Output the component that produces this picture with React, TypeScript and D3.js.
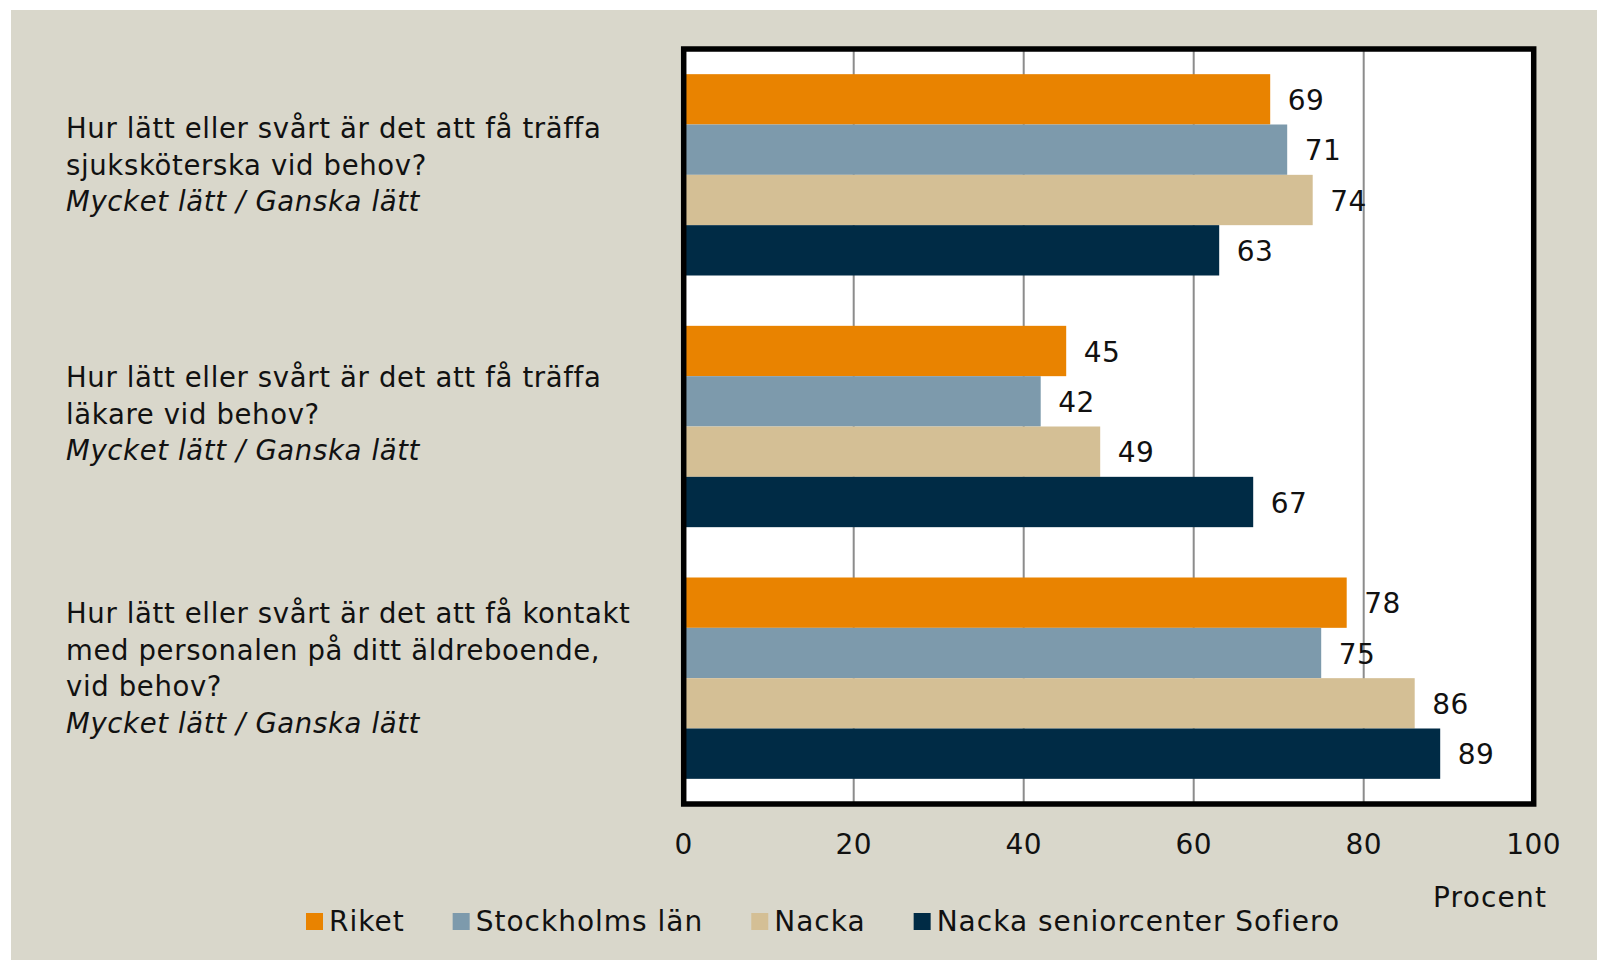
import React, { useEffect, useRef } from "react";
import * as d3 from "d3";

const categories = [
  ["Hur lätt eller svårt är det att få träffa", "sjuksköterska vid behov?"],
  ["Hur lätt eller svårt är det att få träffa", "läkare vid behov?"],
  ["Hur lätt eller svårt är det att få kontakt", "med personalen på ditt äldreboende,", "vid behov?"],
];
const subtitle = "Mycket lätt / Ganska lätt";
const seriesNames = ["Riket", "Stockholms län", "Nacka", "Nacka seniorcenter Sofiero"];
const seriesColors = ["#E98300", "#7D9AAC", "#D4BF95", "#002B45"];
const riket = [69, 45, 78];
const stockholm = [71, 42, 75];
const nacka = [74, 49, 86];
const sofiero = [63, 67, 89];
const xTicks = [0, 20, 40, 60, 80, 100];
const axisTitle = "Procent";

const W = 1597;
const H = 960;
const FONT = "'DejaVu Sans', sans-serif";

export default function App() {
  const ref = useRef<SVGSVGElement | null>(null);

  useEffect(() => {
    const svg = d3.select(ref.current);
    svg.selectAll("*").remove();
    const values = [riket, stockholm, nacka, sofiero];

    svg.append("rect").attr("x", 11).attr("y", 10).attr("width", W - 11).attr("height", H - 10).attr("fill", "#D9D7CB");

    const left = 683.7, right = 1533.7, top = 49, bottom = 804;
    const x = d3.scaleLinear().domain([0, 100]).range([left, right]);
    const y0 = d3.scaleBand<number>().domain(d3.range(categories.length)).range([top, bottom]).paddingInner(0.2).paddingOuter(0.1);
    const y1 = d3.scaleBand<number>().domain(d3.range(seriesNames.length)).range([0, y0.bandwidth()]);

    svg.append("rect").attr("x", left).attr("y", top).attr("width", right - left).attr("height", bottom - top).attr("fill", "#fff");

    svg.selectAll(".grid").data(xTicks.filter((t) => t > 0 && t < 100)).enter().append("line")
      .attr("x1", (d) => x(d)).attr("x2", (d) => x(d)).attr("y1", top).attr("y2", bottom)
      .attr("stroke", "#8C8C8C").attr("stroke-width", 2);

    categories.forEach((_, ci) => {
      values.forEach((arr, si) => {
        const v = arr[ci];
        const yy = (y0(ci) as number) + (y1(si) as number);
        svg.append("rect").attr("x", x(0)).attr("y", yy).attr("width", x(v) - x(0)).attr("height", y1.bandwidth())
          .attr("fill", seriesColors[si]);
        svg.append("text").attr("x", x(v) + 17.5).attr("y", yy + y1.bandwidth() / 2 + 10.5)
          .attr("font-family", FONT).attr("font-size", 28).attr("letter-spacing", 0.5).attr("fill", "#111").text(String(v));
      });
    });

    svg.append("rect").attr("x", left).attr("y", top).attr("width", right - left).attr("height", bottom - top)
      .attr("fill", "none").attr("stroke", "#000").attr("stroke-width", 5.5);

    svg.selectAll(".tick").data(xTicks).enter().append("text")
      .attr("x", (d) => x(d)).attr("y", 854).attr("text-anchor", "middle")
      .attr("font-family", FONT).attr("font-size", 28).attr("letter-spacing", 0.5).attr("fill", "#111").text((d) => String(d));

    svg.append("text").attr("x", 1433).attr("y", 907)
      .attr("font-family", FONT).attr("font-size", 28).attr("letter-spacing", 1.2).attr("fill", "#111").text(axisTitle);

    const lh = 36.5;
    categories.forEach((lines, ci) => {
      const all = [...lines, subtitle];
      const c = (y0(ci) as number) + y0.bandwidth() / 2 - (ci === 1 ? 3 : 0);
      const n = all.length;
      all.forEach((ln, i) => {
        svg.append("text").attr("x", 66).attr("y", c + (i - (n - 1) / 2) * lh)
          .attr("font-family", FONT).attr("font-size", 27.5).attr("letter-spacing", 0.65).attr("fill", "#111")
          .attr("font-style", i === n - 1 ? "italic" : "normal").text(ln);
      });
    });

    let lx = 306;
    seriesNames.forEach((name, si) => {
      svg.append("rect").attr("x", lx).attr("y", 913).attr("width", 17).attr("height", 17).attr("fill", seriesColors[si]);
      const t = svg.append("text").attr("x", lx + 23).attr("y", 931).attr("font-family", FONT).attr("font-size", 28)
        .attr("letter-spacing", 1).attr("fill", "#111").text(name);
      const w = (t.node() as SVGTextElement).getComputedTextLength();
      lx = lx + 23 + w + 48;
    });
  }, []);

  return <svg ref={ref} width={W} height={H} style={{ position: "absolute", left: 0, top: 0 }} />;
}
